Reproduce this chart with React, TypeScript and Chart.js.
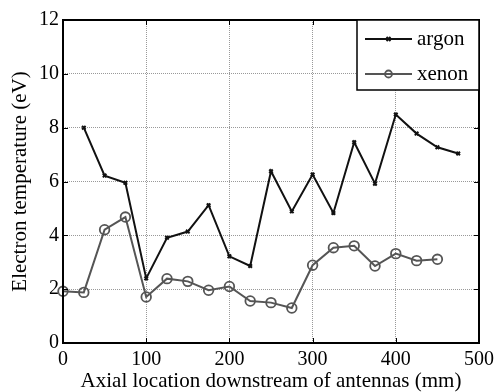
import React, { useEffect, useRef } from "react";
import { Chart, registerables } from "chart.js";

Chart.register(...registerables);

// Axial probe positions (mm) and measured electron temperatures (eV)
const argonPositions = [25, 50, 75, 100, 125, 150, 175, 200, 225, 250, 275, 300, 325, 350, 375, 400, 425, 450, 475];
const argonTe = [8.0, 6.22, 5.95, 2.4, 3.91, 4.14, 5.12, 3.22, 2.86, 6.38, 4.89, 6.26, 4.83, 7.46, 5.92, 8.49, 7.78, 7.27, 7.04];

const xenonPositions = [0, 25, 50, 75, 100, 125, 150, 175, 200, 225, 250, 275, 300, 325, 350, 375, 400, 425, 450];
const xenonTe = [1.92, 1.88, 4.21, 4.68, 1.71, 2.39, 2.29, 1.96, 2.1, 1.56, 1.5, 1.3, 2.89, 3.54, 3.61, 2.86, 3.32, 3.06, 3.11];

const xTickValues = [0, 100, 200, 300, 400, 500];
const yTickValues = [0, 2, 4, 6, 8, 10, 12];

const seriesNames = ["argon", "xenon"];

const FONT = "'Liberation Serif', 'Times New Roman', serif";

// Box around the axes with short inward tick marks on every side
const framePlugin = {
  id: "frame",
  afterDraw(chart: any) {
    const { ctx, chartArea } = chart;
    const { left, right, top, bottom } = chartArea;
    const xs = chart.scales.x;
    const ys = chart.scales.y;
    ctx.save();
    ctx.strokeStyle = "#000";
    ctx.lineWidth = 1;
    const tl = 5;
    ctx.beginPath();
    xTickValues.forEach((v) => {
      const px = Math.round(xs.getPixelForValue(v)) + 0.5;
      ctx.moveTo(px, bottom);
      ctx.lineTo(px, bottom - tl);
      ctx.moveTo(px, top);
      ctx.lineTo(px, top + tl);
    });
    yTickValues.forEach((v) => {
      const py = Math.round(ys.getPixelForValue(v)) + 0.5;
      ctx.moveTo(left, py);
      ctx.lineTo(left + tl, py);
      ctx.moveTo(right, py);
      ctx.lineTo(right - tl, py);
    });
    ctx.stroke();
    ctx.lineWidth = 2;
    ctx.strokeRect(left, top, right - left, bottom - top);
    ctx.restore();
  },
};

// Legend box in the upper-right corner of the plot
const legendBoxPlugin = {
  id: "legendBox",
  afterDraw(chart: any) {
    const { ctx, chartArea } = chart;
    const boxW = 122;
    const boxH = 70;
    const x0 = chartArea.right - boxW;
    const y0 = chartArea.top;
    ctx.save();
    ctx.fillStyle = "#fff";
    ctx.fillRect(x0, y0, boxW, boxH);
    ctx.strokeStyle = "#000";
    ctx.lineWidth = 1.5;
    ctx.strokeRect(x0, y0, boxW, boxH);
    ctx.font = `21px ${FONT}`;
    ctx.textBaseline = "middle";
    chart.data.datasets.forEach((ds: any, i: number) => {
      const y = y0 + 19 + i * 35;
      const lx0 = x0 + 8;
      const lx1 = x0 + 55;
      ctx.strokeStyle = ds.borderColor;
      ctx.lineWidth = ds.borderWidth;
      ctx.beginPath();
      ctx.moveTo(lx0, y);
      ctx.lineTo(lx1, y);
      ctx.stroke();
      const cx = (lx0 + lx1) / 2;
      ctx.lineWidth = ds.pointBorderWidth;
      ctx.beginPath();
      if (ds.pointStyle === "circle") {
        ctx.arc(cx, y, 3.5, 0, Math.PI * 2);
      } else {
        const r = 2;
        ctx.moveTo(cx - r, y - r);
        ctx.lineTo(cx + r, y + r);
        ctx.moveTo(cx - r, y + r);
        ctx.lineTo(cx + r, y - r);
      }
      ctx.stroke();
      ctx.fillStyle = "#000";
      ctx.fillText(ds.label, x0 + 60, y);
    });
    ctx.restore();
  },
};

export default function App() {
  const canvasRef = useRef<HTMLCanvasElement | null>(null);

  useEffect(() => {
    if (!canvasRef.current) return;
    const chart = new Chart(canvasRef.current, {
      type: "line",
      data: {
        datasets: [
          {
            label: seriesNames[0],
            data: argonPositions.map((x, i) => ({ x, y: argonTe[i] })),
            borderColor: "#111111",
            backgroundColor: "#111111",
            borderWidth: 2,
            pointStyle: "crossRot",
            pointRadius: 2.5,
            pointBorderWidth: 2,
            pointBorderColor: "#111111",
            tension: 0,
          },
          {
            label: seriesNames[1],
            data: xenonPositions.map((x, i) => ({ x, y: xenonTe[i] })),
            borderColor: "#555555",
            backgroundColor: "rgba(0,0,0,0)",
            borderWidth: 2,
            pointStyle: "circle",
            pointRadius: 4.8,
            pointBorderWidth: 1.8,
            pointBorderColor: "#555555",
            tension: 0,
          },
        ],
      },
      options: {
        animation: false,
        responsive: false,
        clip: false,
        layout: { padding: { left: 0, right: 16, top: 20, bottom: 0 } },
        plugins: {
          legend: { display: false },
          tooltip: { enabled: false },
        },
        scales: {
          x: {
            type: "linear",
            min: 0,
            max: 500,
            afterBuildTicks: (scale: any) => {
              scale.ticks = xTickValues.map((v) => ({ value: v }));
            },
            afterFit: (scale: any) => {
              scale.height = 49;
            },
            grid: { color: "#999999", lineWidth: 1, drawTicks: false },
            border: { display: false, dash: [1, 1] },
            ticks: {
              color: "#000",
              padding: 5,
              maxRotation: 0,
              font: { family: FONT, size: 20 },
            },
            title: {
              display: true,
              text: "Axial location downstream of antennas (mm)",
              color: "#000",
              padding: { top: 0, bottom: 0 },
              font: { family: FONT, size: 21, lineHeight: 1 },
            },
          },
          y: {
            type: "linear",
            min: 0,
            max: 12,
            afterBuildTicks: (scale: any) => {
              scale.ticks = yTickValues.map((v) => ({ value: v }));
            },
            afterFit: (scale: any) => {
              scale.width = 63;
            },
            grid: { color: "#999999", lineWidth: 1, drawTicks: false },
            border: { display: false, dash: [1, 1] },
            ticks: {
              color: "#000",
              padding: 4,
              font: { family: FONT, size: 20 },
            },
            title: {
              display: true,
              text: "Electron temperature (eV)",
              color: "#000",
              padding: { top: 10, bottom: 0 },
              font: { family: FONT, size: 21, lineHeight: 1 },
            },
          },
        },
      },
      plugins: [framePlugin, legendBoxPlugin],
    } as any);
    return () => chart.destroy();
  }, []);

  return (
    <div style={{ position: "fixed", left: 0, top: 0, width: 499, height: 392, background: "#fff" }}>
      <canvas ref={canvasRef} width={499} height={392} style={{ display: "block" }} />
    </div>
  );
}
